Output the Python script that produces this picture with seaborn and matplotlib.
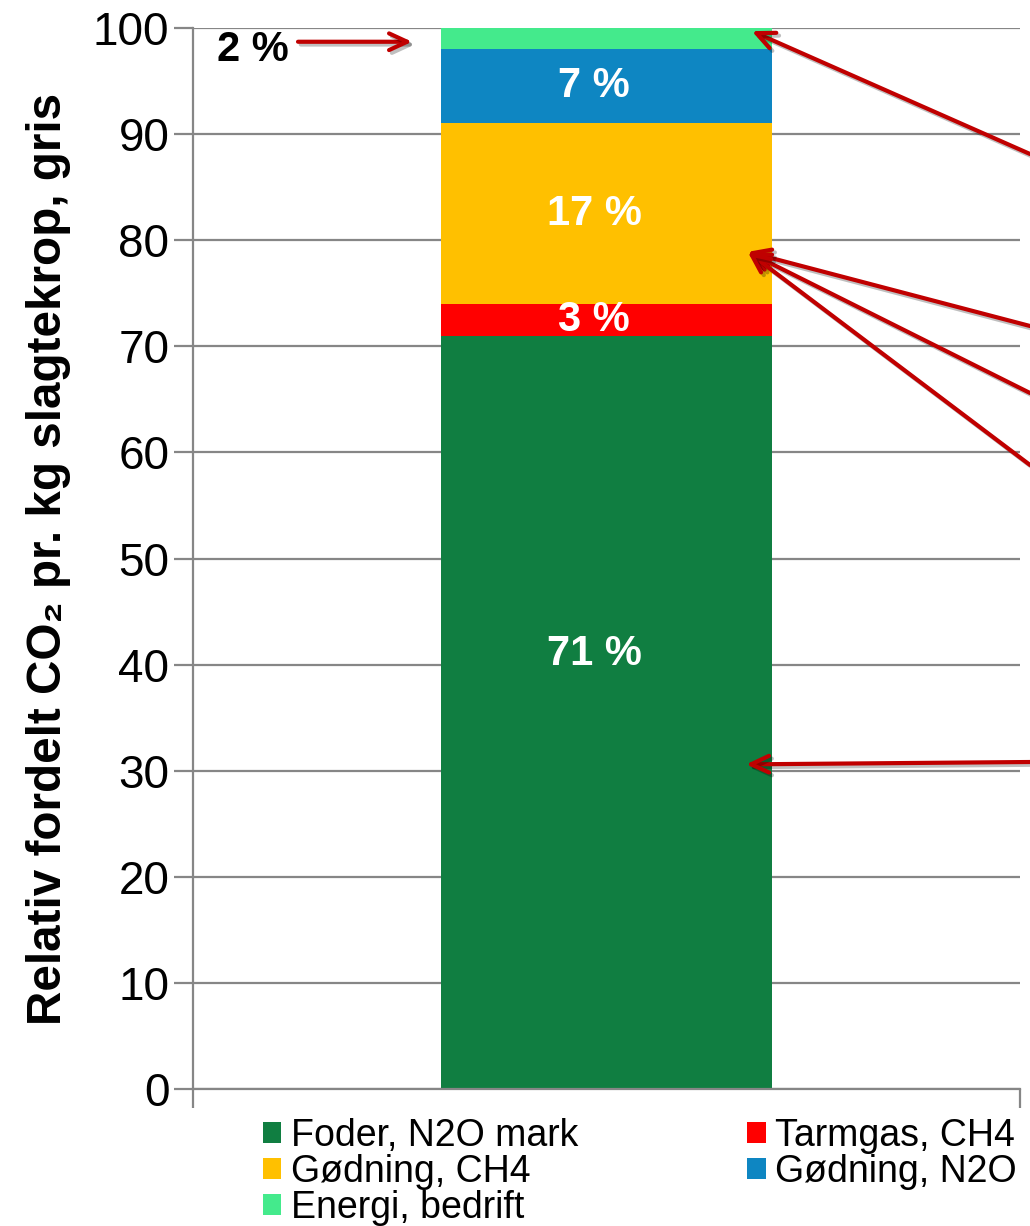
import numpy as np
import pandas as pd
import seaborn as sns
import matplotlib.pyplot as plt
from matplotlib.patches import Patch
import matplotlib.patheffects as pe

# data
kategorier = ["Foder, N2O mark", "Tarmgas, CH4", "Gødning, CH4", "Gødning, N2O", "Energi, bedrift"]
andele = [71, 3, 17, 7, 2]
farver = ["#107E41", "#FF0000", "#FFC000", "#0E86C2", "#44EA8C"]
etiketter = ["71 %", "3 %", "17 %", "7 %", ""]
yticks = list(range(0, 101, 10))

sns.set_style("white")
plt.rcParams["font.family"] = ["Liberation Sans", "DejaVu Sans"]
plt.rcParams["text.color"] = "black"
plt.rcParams["axes.labelcolor"] = "black"
plt.rcParams["ytick.color"] = "black"

fig = plt.figure(figsize=(10.3, 12.26), dpi=100)
ax = fig.add_axes([0.1874, 0.1117, 0.8026, 0.8655])

df = pd.DataFrame({"kategori": kategorier, "andel": andele})
bund = np.concatenate([[0], np.cumsum(andele)[:-1]])
for i, row in df.iterrows():
    sns.barplot(x=["gris"], y=[row["andel"]], bottom=bund[i], color=farver[i],
                width=0.4, saturation=1, ax=ax, linewidth=0)

ax.set_xlim(-0.5, 0.5)
ax.set_ylim(0, 100)
ax.set_yticks(yticks)
ax.set_xticks([-0.5, 0.5])
ax.set_xticklabels([])
ax.set_xlabel("")
ax.tick_params(axis="y", left=True, labelsize=33, length=14, width=1.6,
               color="#868686", labelcolor="black", pad=3)
ax.tick_params(axis="x", bottom=True, length=14, width=1.6, color="#868686")
ax.yaxis.grid(True, color="#868686", linewidth=1.6)
ax.set_axisbelow(True)
for s in ["top", "right"]:
    ax.spines[s].set_visible(False)
for s in ["left", "bottom"]:
    ax.spines[s].set_color("#868686")
    ax.spines[s].set_linewidth(1.6)

ax.set_ylabel("Relativ fordelt CO\u2082 pr. kg slagtekrop, gris", fontsize=34.3,
              fontweight="bold", labelpad=16)

# value labels in the bars
offset = {0: 5.5}
for i, lab in enumerate(etiketter):
    if not lab:
        continue
    ymid = bund[i] + andele[i] / 2 + offset.get(i, 0)
    ax.text(-0.015, ymid, lab, color="white", fontsize=30, fontweight="bold",
            ha="center", va="center")

ax.text(-0.427, 97.9, "2 %", fontsize=30, fontweight="bold", ha="center", va="center")

shadow = [pe.SimpleLineShadow(offset=(2, -2), alpha=0.25, shadow_color="black"), pe.Normal()]
pil = dict(arrowstyle="->,head_length=1.3,head_width=0.6", color="#C00000", lw=3.0,
           shrinkA=0, shrinkB=0)

a = ax.annotate("", xy=(-0.235, 98.7), xytext=(-0.373, 98.7), arrowprops=pil)
a.arrow_patch.set_path_effects(shadow)
for tip, tail in [((0.176, 99.7), (1.0, 1 - 154 / 1226)),
                  ((0.171, 78.9), (1.0, 1 - 326 / 1226)),
                  ((0.171, 78.9), (1.0, 1 - 393 / 1226)),
                  ((0.171, 78.9), (1.0, 1 - 465 / 1226)),
                  ((0.169, 30.6), (1.0, 1 - 762 / 1226))]:
    a = ax.annotate("", xy=tip, xycoords="data", xytext=tail,
                    textcoords="figure fraction", arrowprops=pil)
    a.arrow_patch.set_path_effects(shadow)

# legend: column-wise fill
orden = [0, 2, 4, 1, 3]
handles = [Patch(facecolor=farver[i], edgecolor="none") for i in orden]
labels = [kategorier[i] for i in orden]
fig.legend(handles, labels, loc="upper left", bbox_to_anchor=(0.255, 0.088),
           ncol=2, frameon=False, fontsize=27, handlelength=0.5, handleheight=0.5,
           handletextpad=0.25, labelspacing=0.0, columnspacing=4.5, borderpad=0,
           borderaxespad=0)

fig.savefig("out.png", dpi=100)
